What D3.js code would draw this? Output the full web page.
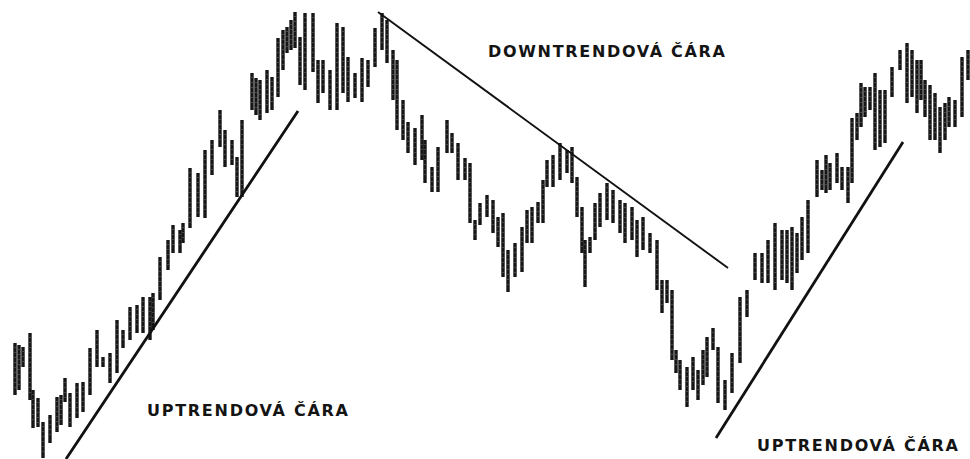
<!DOCTYPE html>
<html>
<head>
<meta charset="utf-8">
<script src="https://cdn.jsdelivr.net/npm/d3@7"></script>
<style>
    html, body { margin: 0; padding: 0; background: #fff; }
    svg { display: block; }
    .label { font-family: "DejaVu Sans", Arial, sans-serif; font-weight: bold; fill: #141414; }
</style>
</head>
<body>
<div id="chart"></div>
<script>
'use strict';

// trading session index of each bar
let days = [3, 7, 11, 18, 21, 26, 31, 38, 45, 49, 53, 58, 65, 71, 78, 85, 91, 98, 105, 111,
    118, 125, 131, 138, 141, 148, 156, 161, 168, 171, 178, 186, 193, 200, 208, 213, 220, 225, 230, 240,
    244, 248, 255, 260, 266, 271, 275, 279, 283, 288, 293, 301, 306, 311, 318, 325, 331, 336, 343, 350,
    356, 363, 370, 375, 381, 385, 391, 396, 403, 410, 413, 420, 426, 435, 440, 446, 453, 458, 463, 468,
    475, 481, 486, 491, 496, 503, 510, 515, 520, 526, 531, 535, 541, 548, 555, 560, 565, 570, 573, 578,
    583, 588, 595, 601, 608, 613, 620, 625, 631, 638, 645, 650, 655, 660, 664, 668, 675, 681, 686, 691,
    695, 701, 706, 713, 720, 728, 735, 743, 750, 756, 763, 770, 775, 780, 785, 790, 796, 805, 810, 814,
    818, 825, 830, 836, 840, 845, 849, 853, 858, 863, 868, 873, 880, 888, 895, 900, 905, 909, 913, 918,
    923, 928, 933, 937, 943, 950, 956];

let highs = [117, 115, 113, 127, 70, 62, 38, 45, 63, 65, 82, 67, 77, 78, 112, 130, 103, 107, 140, 130,
    153, 155, 163, 163, 167, 203, 220, 235, 230, 237, 292, 287, 310, 320, 350, 330, 320, 303, 340, 387,
    382, 380, 390, 383, 422, 430, 433, 440, 448, 423, 447, 447, 400, 400, 390, 437, 433, 403, 387, 402,
    400, 432, 447, 440, 410, 400, 360, 338, 332, 345, 320, 293, 313, 340, 327, 317, 302, 297, 240, 257,
    265, 260, 243, 247, 210, 217, 233, 250, 253, 258, 280, 300, 305, 317, 310, 313, 283, 253, 220, 223,
    257, 267, 277, 270, 260, 257, 253, 240, 243, 227, 220, 180, 180, 170, 110, 100, 93, 103, 90, 110,
    123, 132, 113, 80, 107, 163, 170, 207, 207, 220, 237, 230, 230, 233, 227, 243, 260, 300, 290, 305,
    297, 307, 293, 293, 342, 347, 377, 373, 373, 387, 370, 370, 393, 410, 417, 410, 400, 400, 380, 375,
    367, 353, 357, 363, 360, 403, 410];

let lows = [65, 70, 93, 60, 32, 33, 2, 17, 28, 35, 58, 33, 42, 48, 65, 93, 93, 77, 87, 112,
    120, 127, 127, 120, 130, 160, 190, 207, 207, 217, 232, 243, 242, 285, 313, 293, 295, 263, 263, 350,
    345, 340, 347, 350, 363, 390, 407, 410, 412, 375, 370, 388, 357, 367, 350, 350, 367, 358, 362, 358,
    373, 393, 410, 397, 360, 330, 320, 307, 295, 300, 277, 268, 268, 307, 307, 280, 280, 237, 220, 235,
    243, 227, 213, 183, 168, 183, 188, 217, 217, 237, 237, 273, 273, 280, 287, 277, 243, 207, 173, 207,
    220, 233, 240, 237, 227, 217, 220, 203, 210, 207, 170, 147, 157, 100, 87, 70, 53, 70, 60, 75,
    83, 110, 57, 50, 67, 97, 143, 180, 177, 177, 170, 180, 177, 170, 187, 200, 207, 263, 270, 267,
    270, 277, 270, 257, 277, 320, 333, 343, 350, 310, 313, 317, 363, 390, 357, 363, 347, 360, 343, 320,
    320, 307, 320, 333, 333, 343, 380];

// trend lines as [day, price] pairs
let uptrend1 = [[54, 1], [286, 349]];
let downtrend = [[366, 448], [716, 192]];
let uptrend2 = [[704, 22], [891, 318]];

let labels = [
    {text: 'DOWNTRENDOVÁ ČÁRA', day: 476, price: 403, width: 237},
    {text: 'UPTRENDOVÁ ČÁRA', day: 135, price: 44, width: 201},
    {text: 'UPTRENDOVÁ ČÁRA', day: 745, price: 9, width: 201}
];

let width = 970, height = 459;

let svg = d3.select('#chart').append('svg')
    .attr('width', width)
    .attr('height', height);

let x = d3.scaleLinear().domain([0, 960]).range([12, 972]);
let y = d3.scaleLinear().domain([0, 460]).range([460, 0]);

let bars = days.map(function(d, i) {
    return {day: d, high: highs[i], low: lows[i]};
});

svg.append('g')
    .selectAll('line')
    .data(bars)
    .enter().append('line')
    .attr('x1', function(d) { return x(d.day); })
    .attr('x2', function(d) { return x(d.day); })
    .attr('y1', function(d) { return y(d.high); })
    .attr('y2', function(d) { return y(d.low); })
    .attr('stroke', '#161616')
    .attr('stroke-width', 3.4);

// a little scan-like grain inside the bars
svg.append('g')
    .selectAll('line')
    .data(bars)
    .enter().append('line')
    .attr('x1', function(d) { return x(d.day); })
    .attr('x2', function(d) { return x(d.day); })
    .attr('y1', function(d) { return y(d.high) + 4; })
    .attr('y2', function(d) { return y(d.low) - 4; })
    .attr('stroke', '#8a8a8a')
    .attr('stroke-width', 0.8)
    .attr('stroke-dasharray', '1 4');

let line = d3.line()
    .x(function(d) { return x(d[0]); })
    .y(function(d) { return y(d[1]); });

[[uptrend1, 2.8], [downtrend, 1.9], [uptrend2, 2.8]].forEach(function(t) {
    svg.append('path')
        .attr('d', line(t[0]))
        .attr('fill', 'none')
        .attr('stroke', '#111')
        .attr('stroke-width', t[1]);
});

svg.selectAll('text.label')
    .data(labels)
    .enter().append('text')
    .attr('class', 'label')
    .attr('x', function(d) { return x(d.day); })
    .attr('y', function(d) { return y(d.price); })
    .attr('font-size', 16)
    .attr('textLength', function(d) { return d.width; })
    .attr('lengthAdjust', 'spacing')
    .text(function(d) { return d.text; });
</script>
</body>
</html>
